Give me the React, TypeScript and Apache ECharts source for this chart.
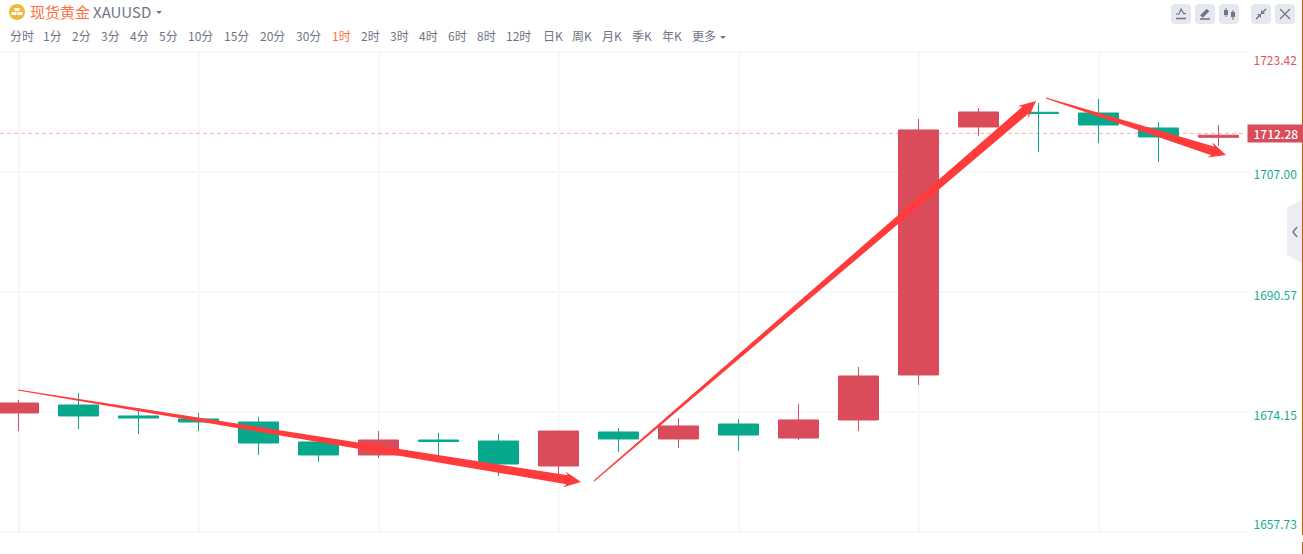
import React, { useEffect, useRef } from "react";
import * as echarts from "echarts";

const TITLE_CN = "现货黄金";
const TITLE_SYMBOL = "XAUUSD";
const TABS = ["分时","1分","2分","3分","4分","5分","10分","15分","20分","30分","1时","2时","3时","4时","6时","8时","12时","日K","周K","月K","季K","年K","更多"];
const ACTIVE_TAB = "1时";
const TAB_X = [10,43,72,101,130,159,188,224,260,296,332,361,390,419,448,477,506,543,572,602,632,662,692];
const PRICE_TICKS = [1657.73, 1674.15, 1690.57, 1707.0, 1723.42];
const LAST_PRICE = 1712.28;
const X_MIN = -0.3083;
const X_MAX = 20.4667;
const GRID_INDEXES = [0, 3, 6, 9, 12, 15, 18];
const CANDLE_INDEX = [0,1,2,3,4,5,6,7,8,9,10,11,12,13,14,15,16,17,18,19,20];
const OPEN = [1674.02,1675.11,1673.61,1673.2,1672.78,1670.05,1668.27,1670.32,1670.18,1666.76,1671.42,1670.46,1672.51,1670.59,1673.06,1679.22,1713.16,1715.17,1715.07,1713.02,1711.75];
const CLOSE = [1675.38,1673.61,1673.33,1672.78,1669.91,1668.27,1670.32,1670.11,1667.04,1671.55,1670.46,1672.24,1671.0,1673.06,1679.08,1712.75,1715.21,1715.0,1713.43,1711.79,1712.03];
const LOW = [1671.55,1671.83,1671.14,1671.55,1668.27,1667.31,1667.86,1668.13,1665.39,1665.39,1668.68,1669.23,1668.82,1670.32,1671.55,1677.85,1711.92,1709.73,1710.97,1708.37,1710.56];
const HIGH = [1675.79,1676.75,1674.7,1674.02,1673.47,1670.6,1671.55,1671.28,1671.14,1671.55,1671.96,1673.33,1673.2,1675.25,1680.31,1714.25,1715.76,1716.44,1716.99,1713.84,1713.43];
// Hand-drawn annotation arrows, in chart coordinates: [fromIndex, fromPrice, toIndex, toPrice]
const ARROWS = [
  [-0.008, 1677.16, 9.375, 1664.57],
  [9.592, 1664.71, 16.958, 1716.71],
  [17.125, 1717.12, 20.125, 1709.32],
];

const UP = "#da4c59";
const DOWN = "#08a88c";
const DOWN_TEXT = "#14ab90";
const FONT = '"Noto Sans CJK SC", "Noto Sans", sans-serif';
const GRAY = "#6f7485";
const GRID_LINE = "#f7f7fa";
const LAST_LINE = "#ffaaaa";

function arrowItem(_p: any, api: any) {
  const s = api.coord([api.value(0), api.value(1)]);
  const t = api.coord([api.value(2), api.value(3)]);
  const dx = t[0] - s[0], dy = t[1] - s[1];
  const len = Math.hypot(dx, dy);
  const ux = dx / len, uy = dy / len, nx = -uy, ny = ux;
  const at = (back: number, side: number) => [t[0] - ux * back + nx * side, t[1] - uy * back + ny * side];
  const base = (side: number) => [s[0] + nx * side, s[1] + ny * side];
  return {
    type: "polygon",
    shape: { points: [base(0.5), at(14, 4.6), at(17, 8), t, at(17, -8), at(14, -4.6), base(-0.5)] },
    style: { fill: "#ff3b3b" },
  };
}

function buttons() {
  const xs = [1171, 1195, 1219, 1251, 1275];
  const out: any[] = xs.map((x) => ({ type: "rect", shape: { x, y: 4, width: 20, height: 20, r: 4 }, style: { fill: "#e6e8ef" } }));
  const line = (pts: number[][], w = 1.5) => ({ type: "polyline", shape: { points: pts }, style: { stroke: GRAY, lineWidth: w, fill: "none" } });
  const poly = (pts: number[][]) => ({ type: "polygon", shape: { points: pts }, style: { fill: GRAY } });
  out.push(line([[1176, 18.5], [1186, 18.5]]), line([[1176, 14], [1179, 14], [1181, 9], [1184, 14], [1186, 13]], 1.2));
  out.push(line([[1200, 19], [1210, 19]]), line([[1201.5, 16.5], [1208, 10]], 3.5));
  out.push(line([[1226, 8], [1226, 17]], 1), line([[1233, 10], [1233, 20]], 1));
  out.push({ type: "rect", shape: { x: 1224, y: 10, width: 4, height: 5 }, style: { fill: GRAY } });
  out.push({ type: "rect", shape: { x: 1231, y: 12, width: 4, height: 5 }, style: { fill: GRAY } });
  out.push(line([[1256, 19], [1259, 16]]), poly([[1257, 14], [1261, 14], [1261, 18]]));
  out.push(line([[1266, 9], [1263, 12]]), poly([[1261, 10], [1261, 14], [1265, 14]]));
  out.push(line([[1280, 9], [1290, 19]], 1.2), line([[1290, 9], [1280, 19]], 1.2));
  return out;
}

function chrome() {
  const items: any[] = [
    { type: "circle", shape: { cx: 17, cy: 12, r: 8 }, style: { fill: "#f0b83f" } },
    { type: "rect", shape: { x: 14.5, y: 8, width: 5, height: 3 }, style: { fill: "#fff" } },
    { type: "rect", shape: { x: 11.5, y: 12, width: 5, height: 3 }, style: { fill: "#fff" } },
    { type: "rect", shape: { x: 17.5, y: 12, width: 5, height: 3 }, style: { fill: "#fff" } },
    { type: "text", x: 30, y: 11, style: { text: TITLE_CN, font: `15px ${FONT}`, fill: "#ff7040", textVerticalAlign: "middle" } },
    { type: "text", x: 93, y: 11, style: { text: TITLE_SYMBOL, font: `15px ${FONT}`, fill: GRAY, textVerticalAlign: "middle" } },
    { type: "polygon", shape: { points: [[156, 11], [162, 11], [159, 14]] }, style: { fill: GRAY } },
    { type: "polygon", shape: { points: [[720, 36], [726, 36], [723, 39]] }, style: { fill: GRAY } },
    { type: "polygon", shape: { points: [[1302, 200], [1287, 207], [1287, 255], [1302, 263]] }, style: { fill: "#ededf1" } },
    { type: "polyline", shape: { points: [[1297, 227], [1293, 232], [1297, 237]] }, style: { stroke: GRAY, lineWidth: 1.5, fill: "none" } },
    { type: "line", shape: { x1: 1302.5, y1: 0, x2: 1302.5, y2: 535 }, style: { stroke: "#b9651e", lineWidth: 1 } },
    { type: "line", shape: { x1: 1302.5, y1: 542, x2: 1302.5, y2: 554 }, style: { stroke: "#b9651e", lineWidth: 1 } },
    ...buttons(),
  ];
  TABS.forEach((t, i) => {
    items.push({ type: "text", x: TAB_X[i], y: 35, style: { text: t, font: `12px ${FONT}`, fill: t === ACTIVE_TAB ? "#ff7040" : GRAY, textVerticalAlign: "middle" } });
  });
  return items;
}

export default function App() {
  const ref = useRef<HTMLDivElement>(null);
  useEffect(() => {
    const chart = echarts.init(ref.current!, undefined, { renderer: "svg" });
    const candles = CANDLE_INDEX.map((x, i) => [x, OPEN[i], CLOSE[i], LOW[i], HIGH[i]]);
    chart.setOption({
      animation: false,
      backgroundColor: "#fff",
      textStyle: { fontFamily: FONT },
      grid: { left: 0, top: 52, width: 1246.5, height: 480 },
      xAxis: {
        type: "value",
        min: X_MIN,
        max: X_MAX,
        axisLine: { show: false },
        axisTick: { show: false, customValues: GRID_INDEXES },
        axisLabel: { show: false, customValues: GRID_INDEXES },
        splitLine: { show: true, lineStyle: { color: GRID_LINE, width: 2 } },
      },
      yAxis: {
        type: "value",
        position: "right",
        min: 1657.73,
        max: 1723.42,
        axisLine: { show: true, lineStyle: { color: "#f3f3f6" } },
        axisTick: { show: false, customValues: PRICE_TICKS },
        splitLine: { show: true, lineStyle: { color: GRID_LINE, width: 2 } },
        axisLabel: {
          customValues: PRICE_TICKS,
          margin: 7,
          fontSize: 12,
          fontFamily: FONT,
          verticalAlignMinLabel: "bottom",
          verticalAlignMaxLabel: "top",
          formatter: (v: number) => {
            const key = v > 1720 ? "top" : v < 1660 ? "bot" : "mid";
            return `{${key}|${v.toFixed(2)}}`;
          },
          rich: {
            top: { color: "#e0505f", fontSize: 12, fontFamily: FONT, padding: [1, 0, 0, 0] },
            mid: { color: DOWN_TEXT, fontSize: 12, fontFamily: FONT, padding: [4, 0, 0, 0] },
            bot: { color: DOWN_TEXT, fontSize: 12, fontFamily: FONT, padding: [0, 0, 3, 0] },
          },
        },
      },
      series: [
        {
          type: "line",
          data: [[X_MIN, LAST_PRICE], [X_MAX, LAST_PRICE]],
          symbol: "none",
          silent: true,
          z: 1,
          lineStyle: { color: LAST_LINE, type: [4, 3], width: 1 },
          endLabel: {
            show: true,
            distance: 1,
            formatter: () => LAST_PRICE.toFixed(2),
            color: "#fff",
            fontSize: 12,
            fontWeight: 500,
            fontFamily: FONT,
            backgroundColor: UP,
            padding: [3, 8, 3, 6],
          },
        },
        {
          type: "candlestick",
          data: candles,
          encode: { x: 0, y: [1, 2, 3, 4] },
          barWidth: 41,
          itemStyle: { color: UP, color0: DOWN, borderColor: UP, borderColor0: DOWN, borderWidth: 1 },
        },
        {
          type: "custom",
          data: ARROWS,
          encode: { x: [0, 2], y: [1, 3] },
          renderItem: arrowItem,
          z: 10,
          silent: true,
          clip: false,
        },
      ],
      graphic: chrome(),
    });
    return () => chart.dispose();
  }, []);
  return <div ref={ref} style={{ position: "fixed", left: 0, top: 0, width: 1303, height: 554 }} />;
}
